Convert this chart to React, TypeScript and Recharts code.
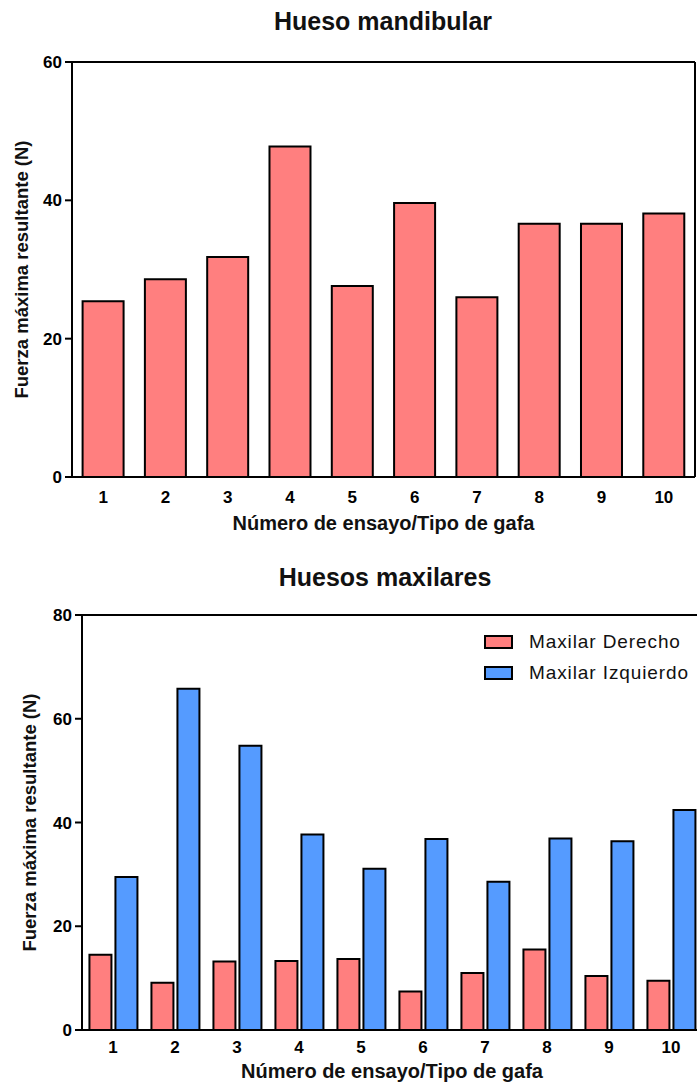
import { Bar, BarChart, Label, Legend, XAxis, YAxis } from "recharts"

const trials = ["1", "2", "3", "4", "5", "6", "7", "8", "9", "10"]
const mandibular = [25.4, 28.6, 31.8, 47.8, 27.6, 39.6, 26.0, 36.6, 36.6, 38.1]
const maxilarDerecho = [14.5, 9.1, 13.2, 13.3, 13.7, 7.4, 11.0, 15.5, 10.4, 9.5]
const maxilarIzquierdo = [29.5, 65.8, 54.8, 37.7, 31.1, 36.8, 28.6, 36.9, 36.4, 42.4]
const ticksTop = [0, 20, 40, 60]
const ticksBottom = [0, 20, 40, 60, 80]

const font = '"Liberation Sans", Arial, sans-serif'
const red = "#ff7f7f"
const blue = "#559bff"
const axisLine = { stroke: "#000", strokeWidth: 2 }
const tickLine = { stroke: "#000", strokeWidth: 2 }
const tickStyle = { fill: "#000", fontSize: 17, fontWeight: "bold", fontFamily: font }
const yLabelStyle = { textAnchor: "middle", fill: "#111", fontSize: 18.5, fontWeight: "bold", fontFamily: font } as any
const xLabelStyle = { fill: "#111", fontSize: 20, fontWeight: "bold", fontFamily: font }
const yLabel = "Fuerza máxima resultante (N)"
const xLabel = "Número de ensayo/Tipo de gafa"

const topData = trials.map((t, i) => ({ trial: t, fuerza: mandibular[i] }))
const bottomData = trials.map((t, i) => ({
  trial: t,
  derecho: maxilarDerecho[i],
  izquierdo: maxilarIzquierdo[i],
}))

const titleStyle: React.CSSProperties = {
  position: "absolute",
  width: 300,
  textAlign: "center",
  fontFamily: font,
  fontWeight: "bold",
  fontSize: 25,
  color: "#111",
  lineHeight: "28px",
}

function LegendBox({ payload }: any) {
  return (
    <div style={{ fontFamily: font, fontSize: 19, color: "#111" }}>
      {(payload || []).map((p: any) => (
        <div key={p.value} style={{ display: "flex", alignItems: "center", height: 31 }}>
          <span
            style={{
              display: "inline-block",
              width: 25,
              height: 10,
              background: p.color,
              border: "2px solid #000",
              marginRight: 16,
            }}
          />
          <span style={{ letterSpacing: 0.9 }}>{p.value}</span>
        </div>
      ))}
    </div>
  )
}

export default function App() {
  return (
    <div style={{ position: "absolute", left: 0, top: 0, width: 697, height: 1089, overflow: "hidden", background: "#fff" }}>
      <div style={{ ...titleStyle, left: 233, top: 7 }}>Hueso mandibular</div>
      <div style={{ position: "absolute", left: 0, top: 0 }}>
        <BarChart width={697} height={537} data={topData} margin={{ top: 61, right: 1, left: 0, bottom: 0 }} barCategoryGap="17%">
          <XAxis dataKey="trial" height={60} tickLine={false} tickSize={0} tickMargin={14} axisLine={axisLine} tick={tickStyle}>
            <Label value={xLabel} position="insideBottom" offset={7} style={xLabelStyle} />
          </XAxis>
          <XAxis xAxisId="top" orientation="top" dataKey="trial" height={1} tick={false} tickLine={false} axisLine={axisLine} />
          <YAxis width={72} domain={[0, 60]} ticks={ticksTop} tickSize={7} tickMargin={3} tickLine={tickLine} axisLine={axisLine} tick={tickStyle}>
            <Label value={yLabel} angle={-90} position="insideLeft" offset={21} style={yLabelStyle} />
          </YAxis>
          <YAxis yAxisId="right" orientation="right" type="number" domain={[0, 60]} ticks={ticksTop} width={1} tick={false} tickLine={false} axisLine={axisLine} />
          <Bar dataKey="fuerza" fill={red} stroke="#000" strokeWidth={2} isAnimationActive={false} />
        </BarChart>
      </div>

      <div style={{ ...titleStyle, left: 235, top: 563 }}>Huesos maxilares</div>
      <div style={{ position: "absolute", left: 0, top: 560 }}>
        <BarChart width={704} height={530} data={bottomData} margin={{ top: 54, right: 2, left: 0, bottom: 0 }} barCategoryGap="12%" barGap={4}>
          <XAxis dataKey="trial" height={60} tickLine={false} tickSize={0} tickMargin={11} axisLine={axisLine} tick={tickStyle}>
            <Label value={xLabel} position="insideBottom" offset={12} style={xLabelStyle} />
          </XAxis>
          <XAxis xAxisId="top" orientation="top" dataKey="trial" height={1} tick={false} tickLine={false} axisLine={axisLine} />
          <YAxis width={82} domain={[0, 80]} ticks={ticksBottom} tickSize={7} tickMargin={3} tickLine={tickLine} axisLine={axisLine} tick={tickStyle}>
            <Label value={yLabel} angle={-90} position="insideLeft" offset={29} style={yLabelStyle} />
          </YAxis>
          <Legend layout="vertical" align="center" verticalAlign="middle" content={<LegendBox />} wrapperStyle={{ position: "absolute", top: 66, left: 484, width: 220 }} />
          <Bar dataKey="derecho" name="Maxilar Derecho" fill={red} stroke="#000" strokeWidth={2} isAnimationActive={false} />
          <Bar dataKey="izquierdo" name="Maxilar Izquierdo" fill={blue} stroke="#000" strokeWidth={2} isAnimationActive={false} />
        </BarChart>
      </div>
    </div>
  )
}
